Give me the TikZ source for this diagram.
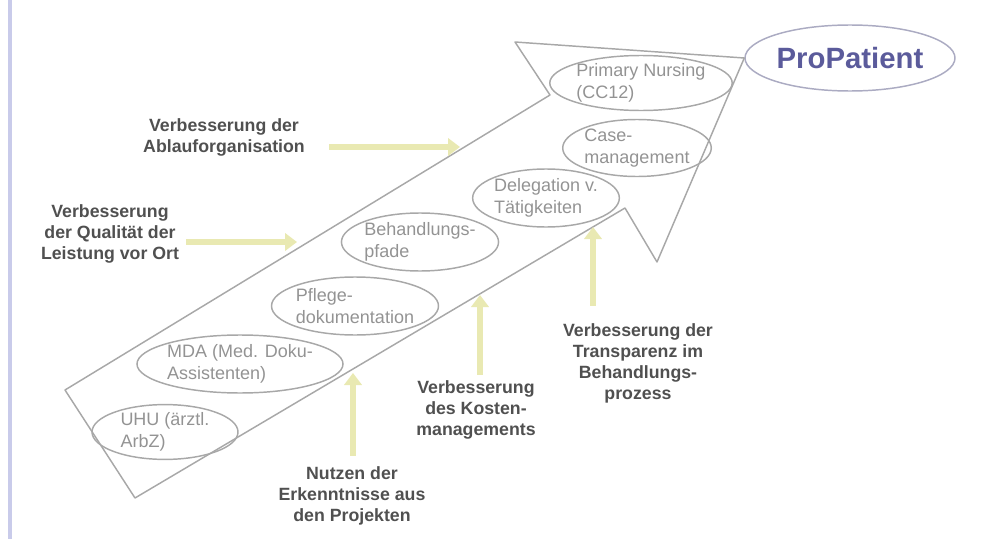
\documentclass[tikz,border=0pt]{standalone}
\usepackage{fontspec}
\setmainfont{Liberation Sans}
\usetikzlibrary{positioning,arrows.meta,shapes.geometric}
\definecolor{ppgrau}{HTML}{A8A8A8}
\definecolor{pptext}{HTML}{939393}
\definecolor{ppdunkel}{HTML}{505050}
\definecolor{ppblau}{HTML}{5B5B9B}
\definecolor{ppoval}{HTML}{ABABC2}
\definecolor{ppgelb}{HTML}{E9E9B2}
\definecolor{pprand}{HTML}{C9CBEA}

\begin{document}
\begin{tikzpicture}[
  x=0.75pt, y=-0.75pt,
  oval/.style={draw=ppgrau, line width=1.1pt, ellipse, inner sep=0pt, align=left, text=pptext, font=\fontsize{13.5}{16.5}\selectfont},
  ziel/.style={align=center, inner sep=0pt, text=ppdunkel, font=\bfseries\fontsize{13.3}{15.75}\selectfont},
  pfeil/.style={-{Triangle[length=9pt,width=13pt]}, line width=5pt, draw=ppgelb}
]
\useasboundingbox (0,0) rectangle (983,539);
\draw[pprand, line width=3pt] (10,0) -- (10,539);

\node[draw=ppoval, line width=1.1pt, ellipse, inner sep=0pt, minimum width=157.5pt, minimum height=49.5pt, text=ppblau, font=\bfseries\fontsize{22}{26}\selectfont] (pp) at (850,58) {ProPatient};

\draw[ppgrau, line width=1.1pt, line join=round] (135,498) -- (65,390) -- (550,95) -- (515,42) -- (pp.west) -- (657,262) -- (625,208) -- cycle;

\node[oval, minimum width=133.5pt, minimum height=41.25pt] (nursing) at (641,83) {Primary Nursing\\(CC12)};
\node[oval, minimum width=108.75pt, minimum height=42.75pt] (case) at (637,148) {Case-\\management};
\node[oval, minimum width=100.5pt, minimum height=43.5pt] (delegation) at (546,198) {Delegation v.\\Tätigkeiten};
\node[oval, minimum width=108.75pt, minimum height=43.5pt] (pfade) at (420,242) {Behandlungs-\\pfade};
\node[oval, minimum width=123.75pt, minimum height=43.5pt] (doku) at (355,306) {Pflege-\\dokumentation};
\node[oval, minimum width=145.5pt, minimum height=43.5pt] (mda) at (240,364) {MDA (Med. Doku-\\Assistenten)};
\node[oval, minimum width=109.5pt, minimum height=39.75pt] (uhu) at (165,432) {UHU (ärztl.\\ArbZ)};

\node[ziel] (ablauf) at (224,137) {Verbesserung der\\Ablauforganisation};
\node[ziel] (qualitaet) at (110,234) {Verbesserung\\der Qualität der\\Leistung vor Ort};
\node[ziel] (nutzen) at (352,496) {Nutzen der\\Erkenntnisse aus\\den Projekten};
\node[ziel] (kosten) at (476,410) {Verbesserung\\des Kosten-\\managements};
\node[ziel] (transparenz) at (638,363) {Verbesserung der\\Transparenz im\\Behandlungs-\\prozess};

\coordinate (zAblauf) at (460,147);
\coordinate (zQualitaet) at (297,242);
\coordinate (zNutzen) at (353,373);
\coordinate (zKosten) at (480,295);
\coordinate (zTransparenz) at (593,227);

\draw[pfeil, shorten <=18pt] (ablauf.east |- zAblauf) -- (zAblauf);
\draw[pfeil, shorten <=5pt] (qualitaet.east |- zQualitaet) -- (zQualitaet);
\draw[pfeil, shorten <=8pt] (nutzen.north -| zNutzen) -- (zNutzen);
\draw[pfeil, shorten <=4pt] (kosten.north -| zKosten) -- (zKosten);
\draw[pfeil, shorten <=13pt] (transparenz.north -| zTransparenz) -- (zTransparenz);
\end{tikzpicture}
\end{document}
